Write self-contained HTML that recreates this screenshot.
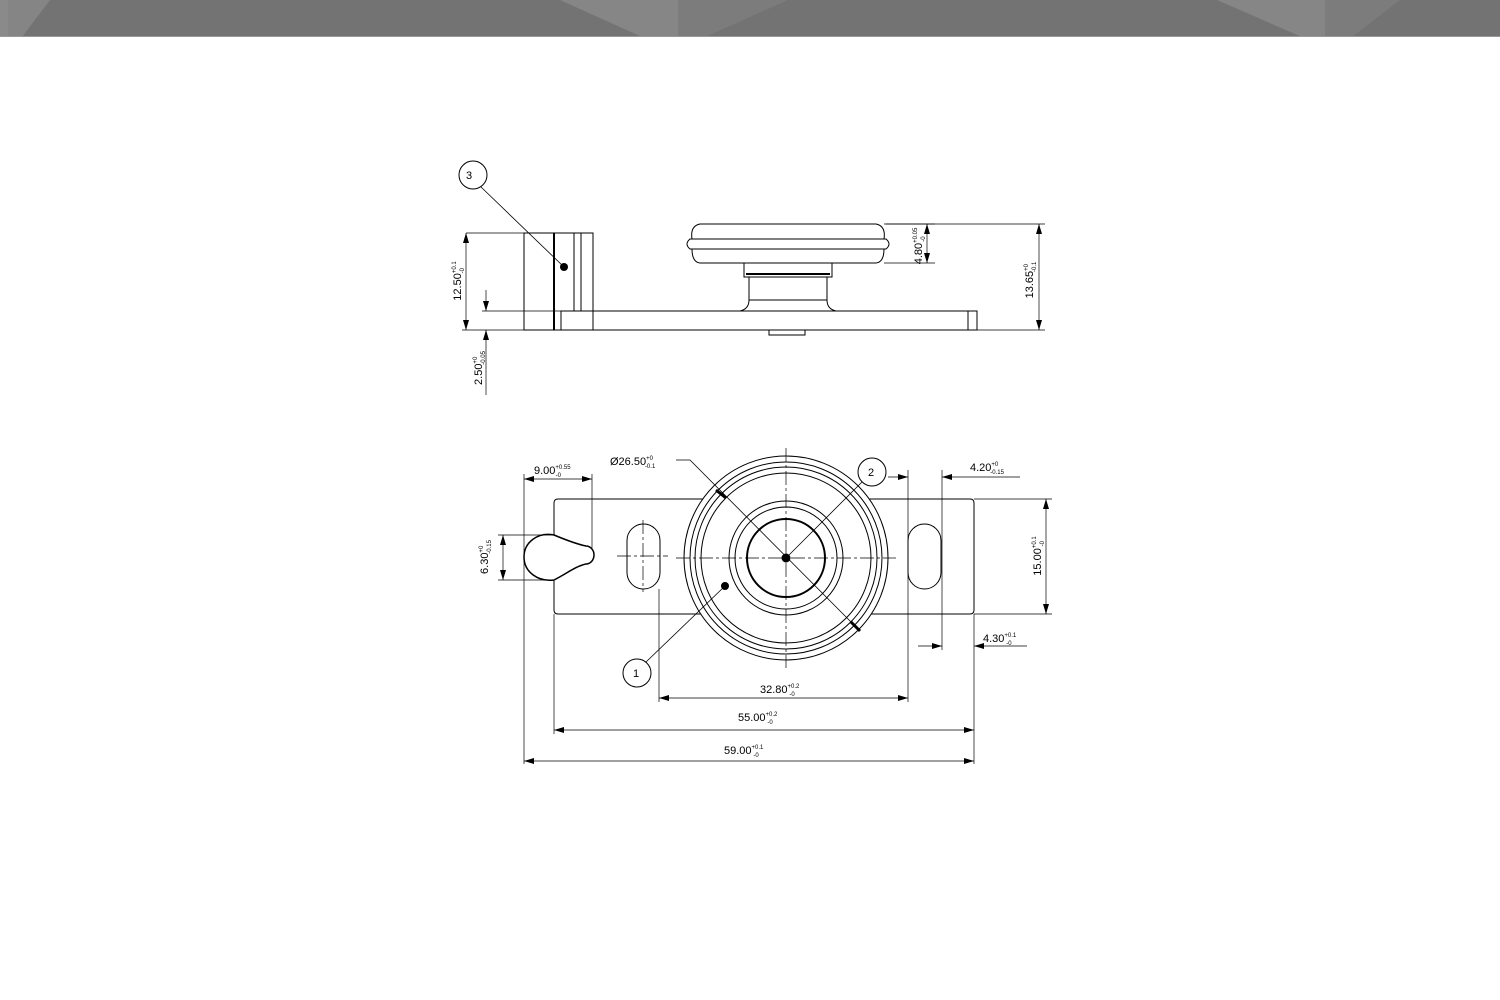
<!DOCTYPE html>
<html><head><meta charset="utf-8"><style>
html,body{margin:0;padding:0;background:#fff;}
svg{display:block;}
text{font-family:"Liberation Sans",sans-serif;fill:#000;}
.t{font-size:11px;}
.s{font-size:6px;}
</style></head><body>
<svg width="1500" height="1000" viewBox="0 0 1500 1000" xmlns="http://www.w3.org/2000/svg">
<defs>
<marker id="a" viewBox="0 0 10 6" refX="10" refY="3" markerWidth="10" markerHeight="6" orient="auto-start-reverse" markerUnits="userSpaceOnUse"><path d="M0,0 L10,3 L0,6 Z" fill="#000"/></marker>
</defs>
<!-- top bar -->
<rect x="0" y="0" width="1500" height="37" fill="#737373"/>
<polygon points="0,0 50,0 22,37 0,37" fill="#858585"/>
<polygon points="0,0 8,0 8,37 0,37" fill="#8a8a8a"/>
<polygon points="560,0 678,0 678,37 642,37" fill="#868686"/>
<polygon points="678,0 788,0 705,37 678,37" fill="#7c7c7c"/>
<polygon points="1217,0 1325,0 1325,37 1302,37" fill="#868686"/>
<polygon points="1325,0 1400,0 1352,37 1325,37" fill="#7c7c7c"/>
<rect x="0" y="36" width="1500" height="1" fill="#999"/>

<g fill="none" stroke="#000" stroke-width="1">
<!-- ===== TOP VIEW ===== -->
<circle cx="473" cy="175" r="14"/>
<line x1="481" y1="187" x2="564" y2="267" stroke-width="0.8"/>
<rect x="524" y="233" width="69" height="97"/>
<line x1="554" y1="233" x2="554" y2="330" stroke-width="2"/>
<line x1="574" y1="233" x2="574" y2="311"/>
<line x1="581" y1="233" x2="581" y2="311"/>
<path d="M561,311 H977 V330 H561 Z"/>
<line x1="968" y1="311" x2="968" y2="330"/>
<rect x="769" y="330" width="36" height="5"/>
<!-- wheel -->
<path d="M692,239 Q690,226 700,224 H876 Q886,226 884,239"/>
<path d="M690,239 H886 Q892,244 886,249 H690 Q684,244 690,239 Z"/>
<path d="M692,249 Q692,262 700,263 H876 Q884,262 884,249"/>
<rect x="744" y="263" width="88" height="14"/>
<line x1="746" y1="274" x2="830" y2="274" stroke-width="2"/>
<path d="M749,277 V300 Q749,309 740,311 M827,277 V300 Q827,309 836,311"/>
<line x1="749" y1="300" x2="827" y2="300"/>
<!-- dims top -->
<line x1="466" y1="233" x2="524" y2="233" stroke-width="0.7"/>
<line x1="462" y1="330" x2="561" y2="330" stroke-width="0.7"/>
<line x1="466" y1="233" x2="466" y2="330" marker-start="url(#a)" marker-end="url(#a)" stroke-width="0.7"/>
<line x1="482" y1="311" x2="561" y2="311" stroke-width="0.7"/>
<line x1="486" y1="290" x2="486" y2="311" marker-end="url(#a)" stroke-width="0.7"/>
<line x1="486" y1="395" x2="486" y2="330" marker-end="url(#a)" stroke-width="0.7"/>
<line x1="884" y1="224" x2="935" y2="224" stroke-width="0.7"/>
<line x1="884" y1="263" x2="935" y2="263" stroke-width="0.7"/>
<line x1="927" y1="224" x2="927" y2="263" marker-start="url(#a)" marker-end="url(#a)" stroke-width="0.7"/>
<line x1="886" y1="224" x2="1045" y2="224" stroke-width="0.7"/>
<line x1="977" y1="330" x2="1045" y2="330" stroke-width="0.7"/>
<line x1="1039" y1="224" x2="1039" y2="330" marker-start="url(#a)" marker-end="url(#a)" stroke-width="0.7"/>

<!-- ===== BOTTOM VIEW ===== -->
<path d="M554,535 V503 Q554,499 558,499 H970 Q974,499 974,503 V610 Q974,614 970,614 H558 Q554,614 554,610 V580"/>
<path d="M554,535 C538,532 524,542 524,557 C524,572 538,582 554,580 C566,574 576,566 586,564 A8,9 0 0 0 586,546 C576,544 566,540 554,535 Z" stroke-width="1.5"/>
<rect x="627" y="524" width="33" height="65" rx="16.5"/>
<rect x="908" y="524" width="33" height="65" rx="16.5"/>
<g fill="#fff">
<circle cx="786" cy="558" r="102"/>
</g>
<circle cx="786" cy="558" r="96"/>
<circle cx="786" cy="558" r="91"/>
<circle cx="786" cy="558" r="85"/>
<circle cx="786" cy="558" r="57"/>
<circle cx="786" cy="558" r="51"/>
<circle cx="786" cy="558" r="39" stroke-width="2"/>
<!-- centerlines -->
<g stroke-dasharray="14,3,3,3" stroke-width="0.7">
<line x1="676" y1="558" x2="896" y2="558"/>
<line x1="786" y1="448" x2="786" y2="668"/>
<line x1="617" y1="556" x2="668" y2="556"/>
<line x1="643" y1="520" x2="643" y2="592"/>
</g>
<circle cx="786" cy="558" r="4" fill="#000"/>
<!-- leaders -->
<path d="M676,460 H690 L856,627" stroke-width="0.8"/>
<line x1="716" y1="490" x2="726" y2="498" stroke-width="3"/>
<line x1="851" y1="622" x2="860" y2="631" stroke-width="3"/>
<line x1="786" y1="558" x2="862" y2="482" stroke-width="0.8"/>
<circle cx="872" cy="472" r="14"/>
<circle cx="637" cy="673" r="14"/>
<line x1="646" y1="662" x2="725" y2="586" stroke-width="0.8"/>
<circle cx="725" cy="586" r="3.5" fill="#000"/>
<!-- dims bottom -->
<g stroke-width="0.7">
<line x1="524" y1="474" x2="524" y2="764"/>
<line x1="592" y1="474" x2="592" y2="548"/>
<line x1="524" y1="479" x2="592" y2="479" marker-start="url(#a)" marker-end="url(#a)"/>
<line x1="498" y1="535" x2="554" y2="535"/>
<line x1="498" y1="580" x2="554" y2="580"/>
<line x1="503" y1="535" x2="503" y2="580" marker-start="url(#a)" marker-end="url(#a)"/>
<line x1="974" y1="499" x2="1052" y2="499"/>
<line x1="974" y1="614" x2="1052" y2="614"/>
<line x1="1046" y1="499" x2="1046" y2="614" marker-start="url(#a)" marker-end="url(#a)"/>
<line x1="908" y1="470" x2="908" y2="702"/>
<line x1="942" y1="470" x2="942" y2="650"/>
<line x1="888" y1="477" x2="908" y2="477" marker-end="url(#a)"/>
<line x1="1020" y1="477" x2="942" y2="477" marker-end="url(#a)"/>
<line x1="918" y1="646" x2="942" y2="646" marker-end="url(#a)"/>
<line x1="1027" y1="646" x2="974" y2="646" marker-end="url(#a)"/>
<line x1="974" y1="614" x2="974" y2="764"/>
<line x1="659" y1="589" x2="659" y2="702"/>
<line x1="659" y1="698" x2="908" y2="698" marker-start="url(#a)" marker-end="url(#a)"/>
<line x1="554" y1="614" x2="554" y2="734"/>
<line x1="554" y1="730" x2="974" y2="730" marker-start="url(#a)" marker-end="url(#a)"/>
<line x1="524" y1="761" x2="974" y2="761" marker-start="url(#a)" marker-end="url(#a)"/>
</g>
</g>
<circle cx="564" cy="267" r="4" fill="#000"/>

<!-- text top -->
<text class="t" x="469" y="179" text-anchor="middle" style="font-size:11px">3</text>
<g transform="translate(461,281) rotate(-90)"><text class="t" x="0" y="0" text-anchor="middle">12.50<tspan class="s" dy="-5">+0.1</tspan><tspan class="s" dx="-12" dy="8">-0</tspan></text></g>
<g transform="translate(482,368) rotate(-90)"><text class="t" x="0" y="0" text-anchor="middle">2.50<tspan class="s" dy="-5">+0</tspan><tspan class="s" dx="-8" dy="8">-0.05</tspan></text></g>
<g transform="translate(922,246) rotate(-90)"><text class="t" x="0" y="0" text-anchor="middle">4.80<tspan class="s" dy="-5">+0.05</tspan><tspan class="s" dx="-14" dy="8">-0</tspan></text></g>
<g transform="translate(1033,280) rotate(-90)"><text class="t" x="0" y="0" text-anchor="middle">13.65<tspan class="s" dy="-5">+0</tspan><tspan class="s" dx="-8" dy="8">-0.1</tspan></text></g>

<!-- text bottom -->
<text class="t" x="534" y="474">9.00<tspan class="s" dy="-5">+0.55</tspan><tspan class="s" dx="-15" dy="8">-0</tspan></text>
<text class="t" x="610" y="465">Ø26.50<tspan class="s" dy="-5">+0</tspan><tspan class="s" dx="-8" dy="8">-0.1</tspan></text>
<text class="t" x="868" y="476">2</text>
<text class="t" x="633" y="677">1</text>
<text class="t" x="970" y="471">4.20<tspan class="s" dy="-5">+0</tspan><tspan class="s" dx="-8" dy="8">-0.15</tspan></text>
<text class="t" x="983" y="642">4.30<tspan class="s" dy="-5">+0.1</tspan><tspan class="s" dx="-10" dy="8">-0</tspan></text>
<g transform="translate(488,557) rotate(-90)"><text class="t" x="0" y="0" text-anchor="middle">6.30<tspan class="s" dy="-5">+0</tspan><tspan class="s" dx="-8" dy="8">-0.15</tspan></text></g>
<g transform="translate(1041,556) rotate(-90)"><text class="t" x="0" y="0" text-anchor="middle">15.00<tspan class="s" dy="-5">+0.1</tspan><tspan class="s" dx="-10" dy="8">-0</tspan></text></g>
<text class="t" x="760" y="693">32.80<tspan class="s" dy="-5">+0.2</tspan><tspan class="s" dx="-10" dy="8">-0</tspan></text>
<text class="t" x="738" y="721">55.00<tspan class="s" dy="-5">+0.2</tspan><tspan class="s" dx="-10" dy="8">-0</tspan></text>
<text class="t" x="724" y="754">59.00<tspan class="s" dy="-5">+0.1</tspan><tspan class="s" dx="-10" dy="8">-0</tspan></text>
</svg>
</body></html>
